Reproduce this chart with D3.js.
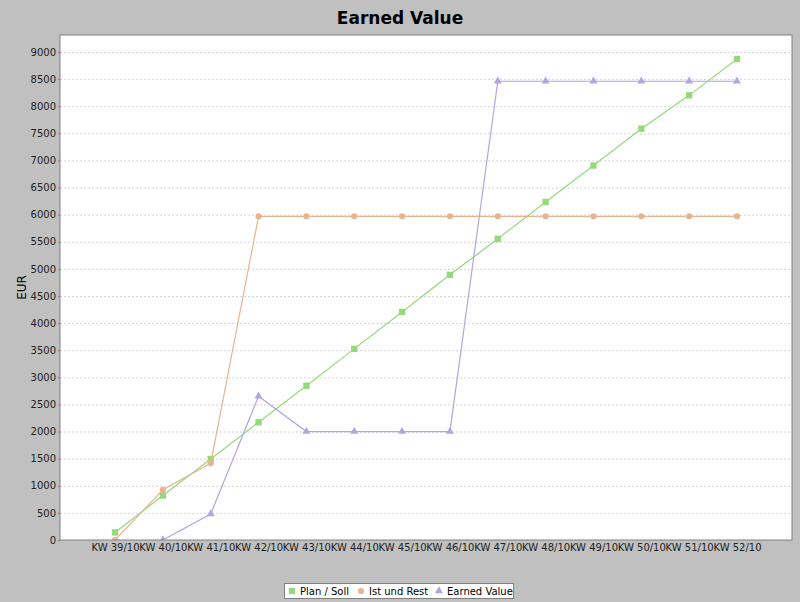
<!DOCTYPE html>
<html>
<head>
  <script src="https://d3js.org/d3.v7.min.js"></script>
  <style>
    body { margin: 0; background: #c0c0c0; }
    text { font-family: "DejaVu Sans", sans-serif; }
    .gridlines line { stroke: #d4d4d4; stroke-dasharray: 2,2; }
    .gridlines .domain { stroke: none; }
  </style>
</head>
<body>
<svg id="chart" width="800" height="602"></svg>
<script>
  const weeks = ["KW 39/10", "KW 40/10", "KW 41/10", "KW 42/10", "KW 43/10", "KW 44/10", "KW 45/10",
                 "KW 46/10", "KW 47/10", "KW 48/10", "KW 49/10", "KW 50/10", "KW 51/10", "KW 52/10"];
  const planSoll = [140, 820, 1495, 2170, 2845, 3525, 4205, 4890, 5555, 6235, 6905, 7585, 8200, 8870];
  const istUndRest = [0, 925, 1415, 5970, 5970, 5970, 5970, 5970, 5970, 5970, 5970, 5970, 5970, 5970];
  const earnedValue = [null, 0, 480, 2650, 2000, 2000, 2000, 2000, 8460, 8460, 8460, 8460, 8460, 8460];
  const yTicks = d3.range(0, 9001, 500);

  const seriesNames = ["Plan / Soll", "Ist und Rest", "Earned Value"];
  const colors = ["#94d97c", "#e8b48e", "#b4a4e0"];

  const svg = d3.select("svg#chart");
  const margin = { top: 35, right: 8, bottom: 62, left: 60 };
  const width = 800, height = 602;
  const chartWidth = width - margin.left - margin.right;
  const chartHeight = height - margin.top - margin.bottom;

  // title
  svg.append("text")
    .attr("x", width / 2)
    .attr("y", 24)
    .attr("text-anchor", "middle")
    .style("font-size", "17px")
    .style("font-weight", "bold")
    .text("Earned Value");

  svg.append("clipPath").attr("id", "plotclip")
    .append("rect").attr("width", chartWidth).attr("height", chartHeight);

  const chartArea = svg.append("g")
    .attr("transform", `translate(${margin.left},${margin.top})`);

  chartArea.append("rect")
    .attr("width", chartWidth)
    .attr("height", chartHeight)
    .attr("fill", "white");

  const xScale = d3.scalePoint()
    .domain(weeks)
    .range([0, chartWidth])
    .padding(1.15);

  const yScale = d3.scaleLinear()
    .domain([0, 9313])
    .range([chartHeight, 0]);

  chartArea.append("g")
    .attr("class", "gridlines")
    .call(d3.axisLeft(yScale).tickValues(yTicks.slice(1)).tickSize(-chartWidth).tickFormat(""));

  // y axis
  const yAxis = chartArea.append("g")
    .call(d3.axisLeft(yScale).tickValues(yTicks).tickSize(2).tickPadding(2).tickFormat(d3.format("d")));
  yAxis.select(".domain").remove();
  yAxis.selectAll("line").attr("stroke", "#808080");
  yAxis.selectAll("text").style("font-size", "10px").attr("fill", "#222");

  // x axis labels
  const xAxis = chartArea.append("g")
    .attr("transform", `translate(0,${chartHeight})`)
    .call(d3.axisBottom(xScale).tickSize(0).tickPadding(4));
  xAxis.select(".domain").remove();
  xAxis.selectAll("text").style("font-size", "10px").attr("fill", "#222");

  svg.append("text")
    .attr("transform", `translate(26,${margin.top + chartHeight / 2})rotate(-90)`)
    .attr("text-anchor", "middle")
    .style("font-size", "12px")
    .text("EUR");

  const allSeries = [planSoll, istUndRest, earnedValue];
  const shapes = [d3.symbolSquare, d3.symbolCircle, d3.symbolTriangle];
  const sizes = [40, 30, 28];

  const line = d3.line()
    .defined(d => d.v !== null)
    .x(d => xScale(d.w))
    .y(d => yScale(d.v));

  const marks = chartArea.append("g").attr("clip-path", "url(#plotclip)");

  allSeries.forEach((vals, i) => {
    const pts = weeks.map((w, j) => ({ w: w, v: vals[j] }));
    marks.append("path")
      .datum(pts)
      .attr("fill", "none")
      .attr("stroke", colors[i])
      .attr("stroke-width", 1.2)
      .attr("d", line);
    marks.selectAll(null)
      .data(pts.filter(d => d.v !== null))
      .join("path")
      .attr("transform", d => `translate(${xScale(d.w)},${yScale(d.v)})`)
      .attr("d", d3.symbol().type(shapes[i]).size(sizes[i]))
      .attr("fill", colors[i]);
  });

  // border
  chartArea.append("rect")
    .attr("width", chartWidth)
    .attr("height", chartHeight)
    .attr("fill", "none")
    .attr("stroke", "#808080");

  // legend
  const legend = svg.append("g").attr("transform", "translate(284.5,583.5)");
  legend.append("rect")
    .attr("width", 229)
    .attr("height", 15)
    .attr("fill", "white")
    .attr("stroke", "#808080");
  const legendX = [7.5, 76.5, 154.5];
  seriesNames.forEach((name, i) => {
    legend.append("path")
      .attr("transform", `translate(${legendX[i]},7.5)`)
      .attr("d", d3.symbol().type(shapes[i]).size(sizes[i]))
      .attr("fill", colors[i]);
    legend.append("text")
      .attr("x", legendX[i] + 8)
      .attr("y", 11.5)
      .style("font-size", "10px")
      .text(name);
  });
</script>
</body>
</html>
